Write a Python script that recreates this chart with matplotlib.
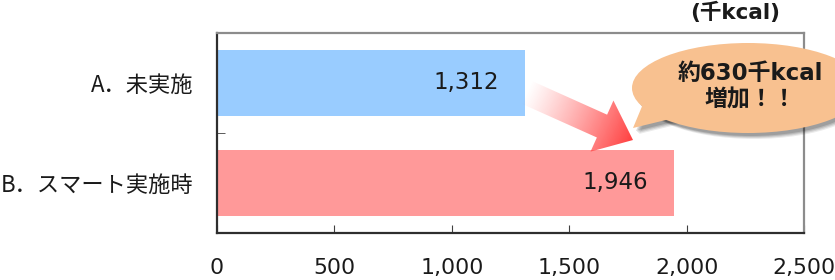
import numpy as np
import matplotlib
matplotlib.use("Agg")
import matplotlib.pyplot as plt
from matplotlib.patches import Ellipse, Polygon

categories = ["A．未実施", "B．スマート実施時"]
values = [1312, 1946]
bar_colors = ["#99CCFF", "#FF9999"]
xticks = [0, 500, 1000, 1500, 2000, 2500]
unit_label = "(千kcal)"
callout_text = "約630千kcal\n増加！！"

FONTS = ["DejaVu Sans", "Noto Sans CJK JP"]
CJK_FIRST = ["Noto Sans CJK JP", "DejaVu Sans"]
plt.rcParams["font.family"] = FONTS

W, H = 835, 280
fig = plt.figure(figsize=(W / 100, H / 100), dpi=100)
ax = fig.add_axes([217 / W, 1 - 233 / H, (804 - 217) / W, (233 - 33) / H])

ypos = np.arange(len(categories))
ax.barh(ypos, values, height=0.66, color=bar_colors, zorder=2)
for y, v in zip(ypos, values):
    ax.text(v - 112, y, f"{v:,}", ha="right", va="center",
            fontsize=16.5, color="#1a1a1a", zorder=3)

ax.set_xlim(0, 2500)
ax.set_ylim(1.5, -0.5)
ax.set_xticks(xticks)
ax.set_xticklabels([f"{t:,}" for t in xticks], fontsize=15.8, color="#1a1a1a")
ax.set_yticks(ypos)
ax.set_yticklabels(categories, fontsize=16, color="#1a1a1a", family=CJK_FIRST)
ax.set_yticks([0.5], minor=True)
ax.tick_params(axis="y", which="major", length=0, pad=17)
ax.tick_params(axis="y", which="minor", direction="in", length=6, color="#404040")
ax.tick_params(axis="x", direction="in", length=6, color="#404040", pad=18)

for side, c in [("left", "#2e2e2e"), ("bottom", "#2e2e2e"),
                ("top", "#8c8c8c"), ("right", "#8c8c8c")]:
    ax.spines[side].set_color(c)
    ax.spines[side].set_linewidth(1.6)

fig.text(735 / W, 1 - 12 / H, unit_label, ha="center", va="center",
         fontsize=15.5, fontweight="bold", color="#1a1a1a")

# overlay in pixel coordinates for the arrow and the callout
ov = fig.add_axes([0, 0, 1, 1], zorder=5)
ov.set_xlim(0, W)
ov.set_ylim(H, 0)
ov.axis("off")
ov.patch.set_alpha(0)

# gradient arrow
S = np.array([526.0, 92.0])
T = np.array([633.0, 140.0])
d = (T - S) / np.linalg.norm(T - S)
n = np.array([-d[1], d[0]])
L = np.linalg.norm(T - S)
hl, hw, sw = 34, 28, 12.5
B = T - d * hl
pts = [S + n * sw, B + n * sw, B + n * hw, T, B - n * hw, B - n * sw, S - n * sw]
arrow = Polygon(pts, closed=True, facecolor="none", edgecolor="none")
ov.add_patch(arrow)
gx, gy = np.meshgrid(np.arange(500, 660), np.arange(60, 170))
t = np.clip(((gx - S[0]) * d[0] + (gy - S[1]) * d[1]) / L, 0, 1)
img = np.zeros(gx.shape + (4,))
img[..., 0] = 1.0
img[..., 1] = 0.30 - 0.06 * t
img[..., 2] = 0.30 - 0.06 * t
img[..., 3] = t ** 1.1
im = ov.imshow(img, extent=(500, 660, 170, 60), origin="upper",
               interpolation="bilinear", zorder=3)
im.set_clip_path(arrow)
ov.set_xlim(0, W)
ov.set_ylim(H, 0)

# callout bubble with soft shadow
cx, cy, ew, eh = 748, 88, 232, 90
tail = [(643, 104), (633, 128), (674, 118)]
for off, a in [(6, 0.08), (5, 0.10), (4, 0.12), (3, 0.14)]:
    ov.add_patch(Ellipse((cx + off, cy + off), ew, eh, facecolor="black",
                         edgecolor="none", alpha=a, zorder=4))
    ov.add_patch(Polygon([(x + off, y + off) for x, y in tail], facecolor="black",
                         edgecolor="none", alpha=a, zorder=4))
ov.add_patch(Ellipse((cx, cy), ew, eh, facecolor="#F8C190", edgecolor="none", zorder=5))
ov.add_patch(Polygon(tail, facecolor="#F8C190", edgecolor="none", zorder=5))
ov.text(750, 87, callout_text, ha="center", va="center", fontsize=16.5,
        fontweight="bold", color="#1a1a1a", linespacing=1.2, zorder=6)

fig.savefig("out.png", dpi=100)
